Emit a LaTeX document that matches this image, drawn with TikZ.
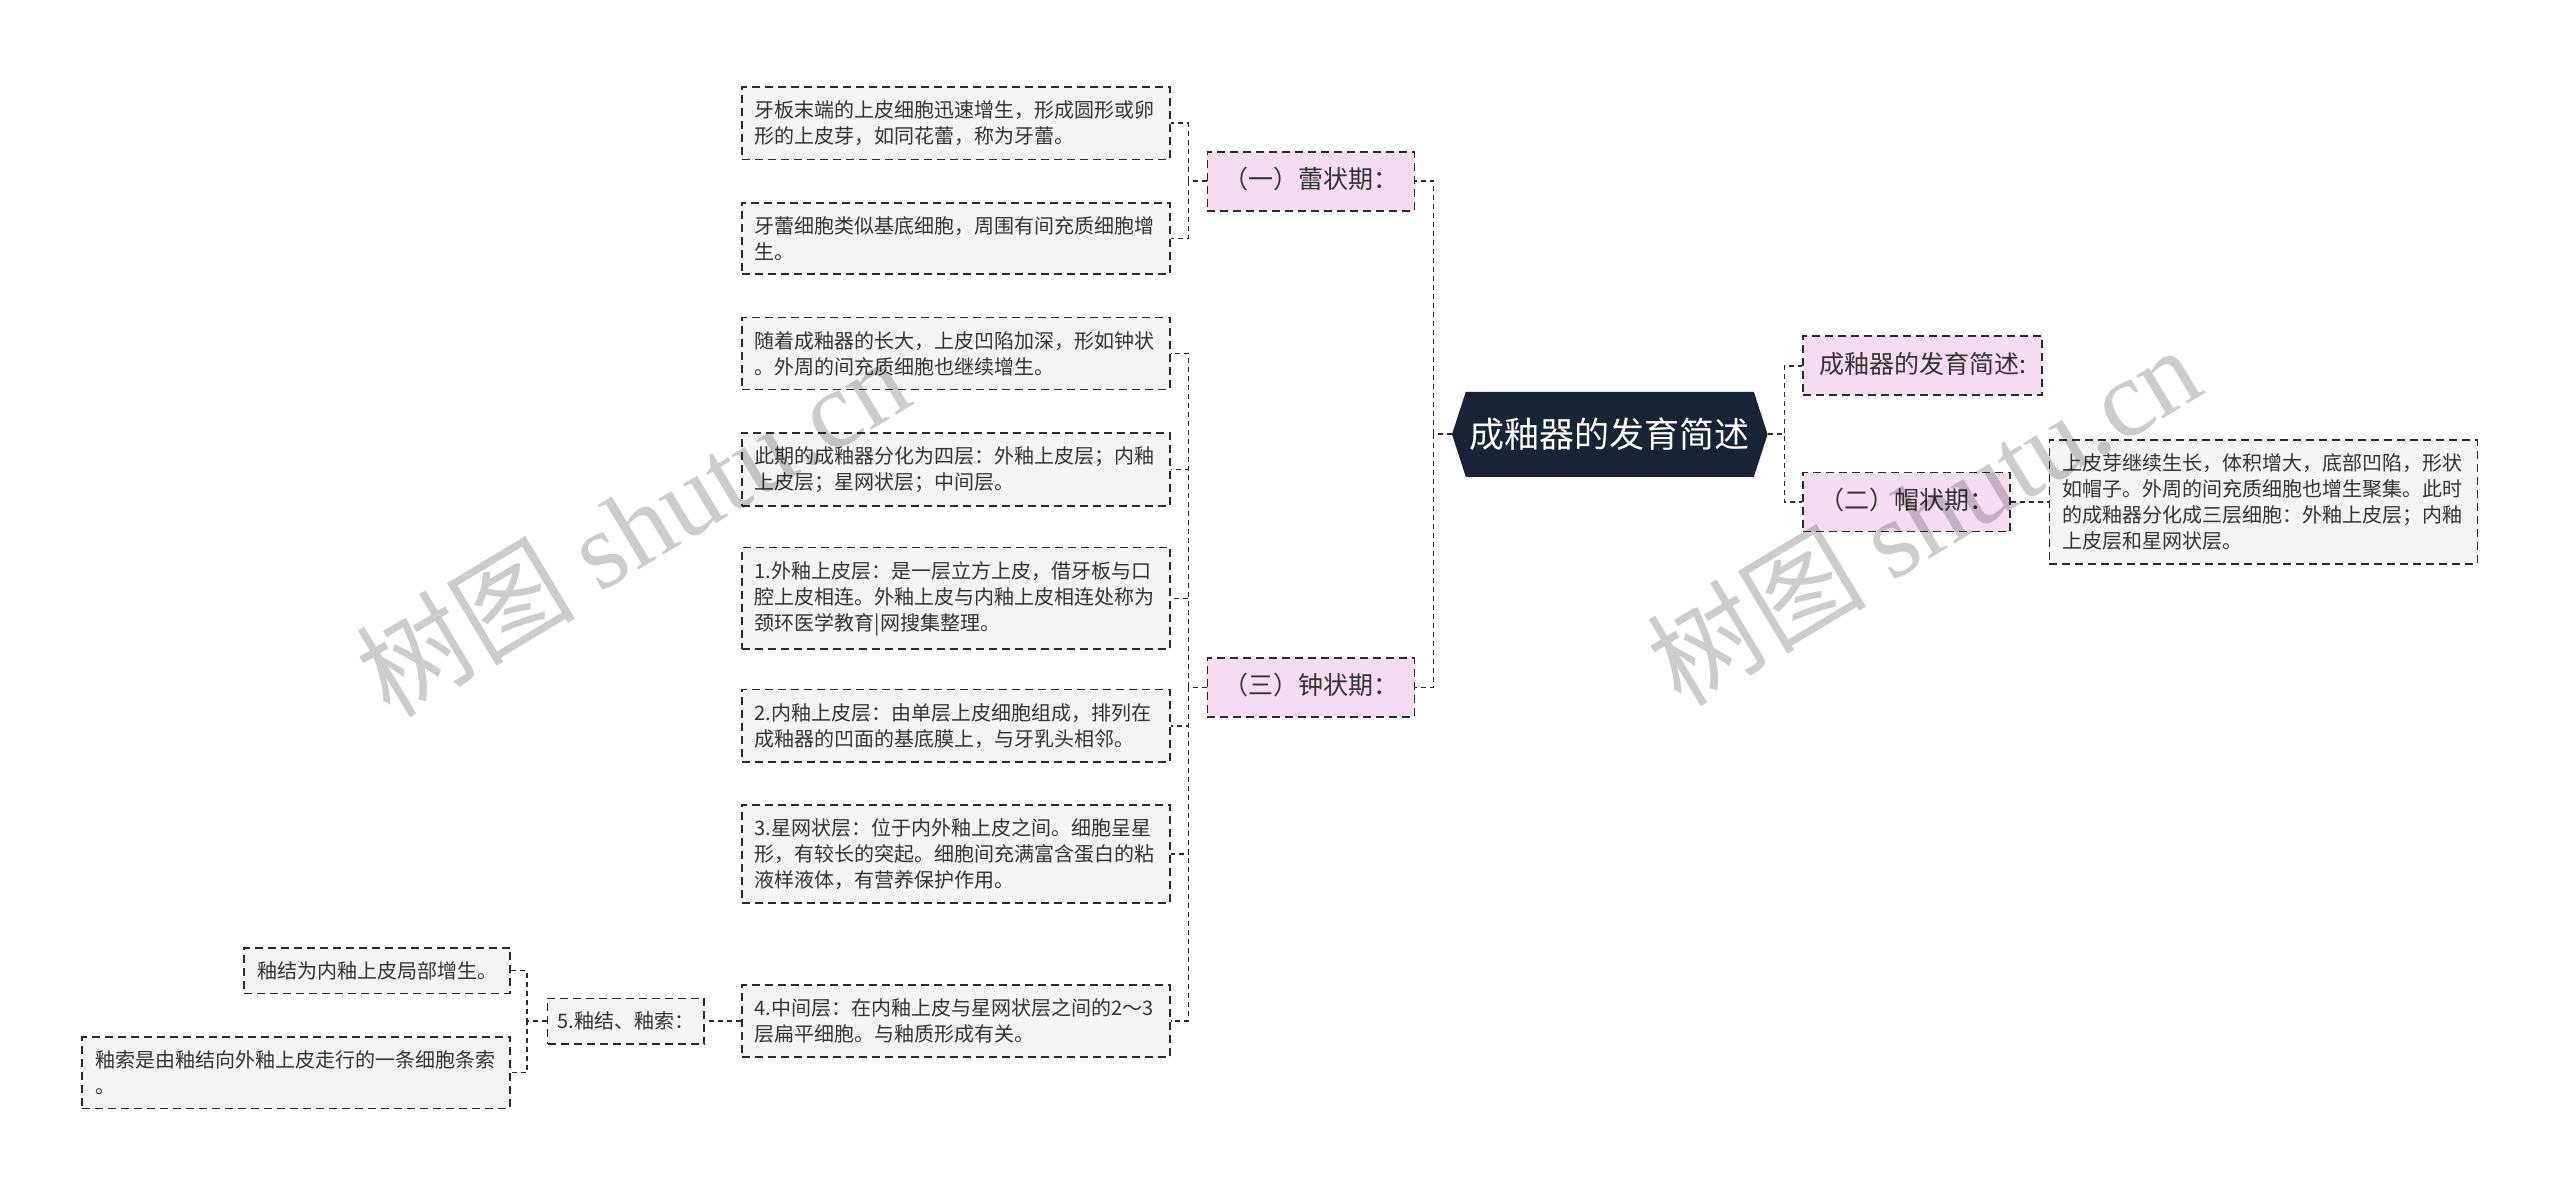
\documentclass[tikz,border=0pt]{standalone}
\usepackage{fontspec}
\setmainfont{Noto Sans CJK SC}
\newfontfamily\wmserif{Liberation Serif}
\usepackage{xcolor}
\usepackage{tikz}
\usetikzlibrary{positioning, shapes.symbols}

\definecolor{rootbg}{HTML}{182336}
\definecolor{pinkbg}{HTML}{F5DCF0}
\definecolor{leafbg}{HTML}{F4F4F4}
\definecolor{linec}{HTML}{2B2B2B}
\definecolor{textc}{HTML}{333333}

\begin{document}
\begin{tikzpicture}[x=0.8163pt, y=-0.8163pt,
    conn/.style={draw=linec, line width=0.8pt, dash pattern=on 2.5pt off 2pt},
    rootbox/.style={signal, signal to=west and east, signal pointer angle=144, fill=rootbg, text=white, font=\fontsize{17.5}{20}\selectfont, minimum width=157pt, minimum height=42.5pt, inner xsep=2pt},
    stage/.style={rectangle, draw=linec, line width=0.8pt, dash pattern=on 4pt off 2.5pt, fill=pinkbg, text=textc, font=\fontsize{12.5}{15}\selectfont, text height=10pt, text depth=2.5pt, inner xsep=8pt, inner ysep=8.5pt},
    leaf/.style={rectangle, draw=linec, line width=0.8pt, dash pattern=on 4pt off 2.5pt, fill=leafbg, text=textc, font=\fontsize{10}{13}\selectfont, align=left, inner xsep=6.5pt, inner ysep=6.8pt},
    leafwide/.style={leaf, text width=201pt},
    wmark/.style={text=black, text opacity=0.2, font=\fontsize{55}{66}\selectfont, rotate=31}]
    \useasboundingbox (0,0) rectangle (1568,733);

    % Root
    \node[rootbox] (root) at (986,266) {成釉器的发育简述};

    % Right side
    \node[stage, anchor=west] (intro) at (1104,224) {成釉器的发育简述:};
    \draw[conn] (root.east) -- ++(10,0) |- (intro.west);
    \node[stage, anchor=west] (cap) at (1104,307.5) {（二）帽状期：};
    \draw[conn] (root.east) -- ++(10,0) |- (cap.west);
    \node[leafwide, right=18.8pt of cap] (capA) {上皮芽继续生长，体积增大，底部凹陷，形状\\如帽子。外周的间充质细胞也增生聚集。此时\\的成釉器分化成三层细胞：外釉上皮层；内釉\\上皮层和星网状层。};
    \draw[conn] (cap) -- (capA);

    % Bud stage
    \node[stage, anchor=west] (bud) at (739,111) {（一）蕾状期：};
    \draw[conn] (root.west) -- ++(-11,0) |- (bud.east);
    \node[leafwide, anchor=east] (budA) at (717,75.5) {牙板末端的上皮细胞迅速增生，形成圆形或卵\\形的上皮芽，如同花蕾，称为牙蕾。};
    \draw[conn] (bud.west) -- ++(-11,0) |- (budA.east);
    \node[leafwide, anchor=east] (budB) at (717,146) {牙蕾细胞类似基底细胞，周围有间充质细胞增\\生。};
    \draw[conn] (bud.west) -- ++(-11,0) |- (budB.east);

    % Bell stage
    \node[stage, anchor=west] (bell) at (739,421) {（三）钟状期：};
    \draw[conn] (root.west) -- ++(-11,0) |- (bell.east);
    \node[leafwide, anchor=east] (bellA) at (717,216.5) {随着成釉器的长大，上皮凹陷加深，形如钟状\\。外周的间充质细胞也继续增生。};
    \draw[conn] (bell.west) -- ++(-11,0) |- (bellA.east);
    \node[leafwide, anchor=east] (bellB) at (717,287.5) {此期的成釉器分化为四层：外釉上皮层；内釉\\上皮层；星网状层；中间层。};
    \draw[conn] (bell.west) -- ++(-11,0) |- (bellB.east);
    \node[leafwide, anchor=east] (bellC) at (717,366.5) {1.外釉上皮层：是一层立方上皮，借牙板与口\\腔上皮相连。外釉上皮与内釉上皮相连处称为\\颈环医学教育|网搜集整理。};
    \draw[conn] (bell.west) -- ++(-11,0) |- (bellC.east);
    \node[leafwide, anchor=east] (bellD) at (717,444.5) {2.内釉上皮层：由单层上皮细胞组成，排列在\\成釉器的凹面的基底膜上，与牙乳头相邻。};
    \draw[conn] (bell.west) -- ++(-11,0) |- (bellD.east);
    \node[leafwide, anchor=east] (bellE) at (717,523) {3.星网状层：位于内外釉上皮之间。细胞呈星\\形，有较长的突起。细胞间充满富含蛋白的粘\\液样液体，有营养保护作用。};
    \draw[conn] (bell.west) -- ++(-11,0) |- (bellE.east);
    \node[leafwide, anchor=east] (bellF) at (717,625.5) {4.中间层：在内釉上皮与星网状层之间的2～3\\层扁平细胞。与釉质形成有关。};
    \draw[conn] (bell.west) -- ++(-11,0) |- (bellF.east);

    % Enamel knot and cord
    \node[leaf, inner xsep=5pt, left=18pt of bellF] (knot) {5.釉结、釉索：};
    \draw[conn] (bellF) -- (knot);
    \node[leaf, anchor=east] (knotA) at (313,594.5) {釉结为内釉上皮局部增生。};
    \draw[conn] (knot.west) -- ++(-12,0) |- (knotA.east);
    \node[leafwide, anchor=east] (knotB) at (313,657) {釉索是由釉结向外釉上皮走行的一条细胞条索\\。};
    \draw[conn] (knot.west) -- ++(-12,0) |- (knotB.east);

    % Watermarks
    \node[wmark] (wmL) at (387,322) {树图 {\wmserif shutu.cn}};
    \node[wmark] (wmR) at (1178,315) {树图 {\wmserif shutu.cn}};
\end{tikzpicture}
\end{document}
